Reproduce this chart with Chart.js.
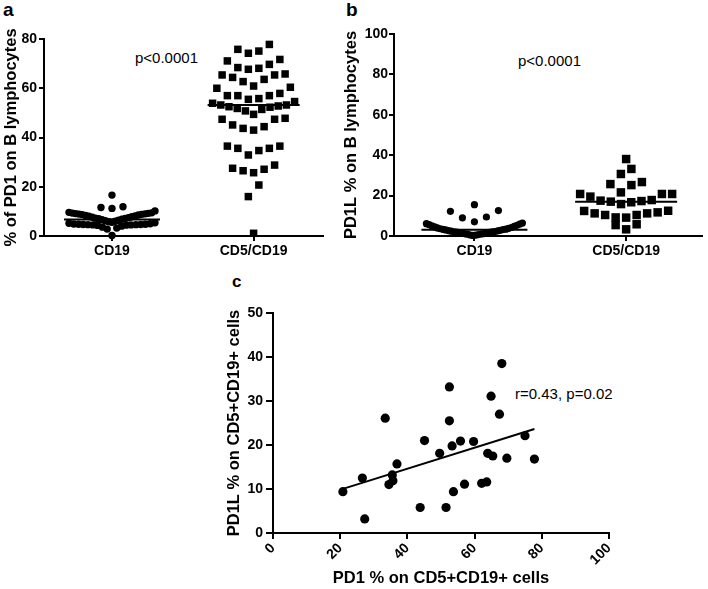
<!DOCTYPE html>
<html>
<head>
<meta charset="utf-8">
<script src="https://cdn.jsdelivr.net/npm/chart.js@4.4.1/dist/chart.umd.min.js"></script>
<style>
  body { margin: 0; background: #fff; width: 708px; height: 589px; overflow: hidden; position: relative; font-family: "Liberation Sans", Arial, sans-serif; color: #000; }
  canvas { position: absolute; }
  .letter { position: absolute; font-weight: bold; line-height: 1; }
  .note { position: absolute; font-size: 15px; line-height: 1; white-space: nowrap; }
</style>
</head>
<body>
<div class="letter" style="left:3px;top:0px;font-size:19px">a</div>
<div class="letter" style="left:346px;top:0px;font-size:19px">b</div>
<div class="letter" style="left:232px;top:273px;font-size:17px">c</div>
<div class="note" style="left:135px;top:50px">p&lt;0.0001</div>
<div class="note" style="left:518px;top:53px">p&lt;0.0001</div>
<div class="note" style="left:515px;top:386px">r=0.43, p=0.02</div>

<canvas id="chartA" width="340" height="270" style="left:0;top:0"></canvas>
<canvas id="chartB" width="368" height="270" style="left:340px;top:0"></canvas>
<canvas id="chartC" width="450" height="319" style="left:180px;top:270px"></canvas>

<script>
// ---- dados ----
const grupos = ["CD19", "CD5/CD19"];

// a: % de PD1 nos linfócitos B
const pd1Cd19 = [16.6, 11.9, 11.6, 11.2, 10.2, 9.6, 9.4, 9.3, 9.2, 9.1, 9.0, 8.9, 8.8, 8.7, 8.5,
  8.3, 8.1, 8.0, 7.8, 7.6, 7.4, 7.2, 7.1, 7.0, 6.8, 6.6, 6.4, 6.2, 6.0, 5.8, 5.6, 5.4, 5.2, 5.0,
  4.9, 4.8, 4.8, 4.7, 4.7, 4.6, 4.6, 4.5, 4.5, 4.4, 4.3, 4.0, 3.6, 3.2, 2.8, 0.2];
const pd1Cd5 = [77.8, 75.8, 75.1, 74.2, 71.1, 71.7, 69.7, 68.4, 67.7, 68.1, 65.4, 65.4, 65.8, 64.4,
  63.6, 62.7, 60.9, 60.0, 60.4, 57.0, 57.0, 57.9, 57.0, 55.5, 55.8, 54.6, 52.8, 51.8, 53.2, 53.2,
  53.9, 52.3, 52.5, 50.8, 51.4, 47.4, 47.8, 49.4, 47.4, 45.1, 43.7, 43.0, 44.4, 36.5, 35.6, 32.9,
  34.7, 35.6, 36.5, 27.5, 26.5, 25.7, 27.1, 28.8, 20.7, 16.0, 1.1];

// b: % de PD1L nos linfócitos B
const pd1lCd19 = [15.5, 12.6, 12.2, 9.4, 9.0, 7.0, 6.4, 6.1, 5.9, 5.6, 5.3, 5.0, 4.8, 4.5, 4.2,
  4.0, 3.8, 3.6, 3.4, 3.3, 3.2, 3.0, 2.8, 2.7, 2.5, 2.4, 2.2, 2.1, 2.0, 1.9, 1.8, 1.6, 1.5, 1.4,
  1.2, 1.1, 1.0, 0.9, 0.7, 0.5, 0.4, 0.3];
const pd1lCd5 = [38.1, 33.2, 30.7, 26.7, 25.2, 25.7, 21.6, 20.8, 19.5, 17.5, 16.7, 15.8, 17.0,
  17.3, 17.8, 20.8, 20.8, 12.4, 11.2, 10.4, 9.2, 9.1, 10.4, 11.2, 11.7, 12.5, 5.4, 5.8, 3.3];

// c: correlação PD1 x PD1L em CD5+CD19+
const pd1Cells = [20.8, 26.6, 27.3, 33.4, 34.5, 35.5, 35.7, 36.9, 43.8, 45.1, 49.6, 51.5, 52.5,
  52.5, 53.3, 53.7, 55.8, 57.0, 59.7, 62.1, 63.6, 63.9, 65.4, 64.9, 67.4, 68.1, 69.6, 75.0, 77.8];
const pd1lCells = [9.4, 12.5, 3.2, 26.1, 11.0, 13.2, 11.9, 15.7, 5.8, 21.0, 18.1, 5.8, 33.2,
  25.5, 19.8, 9.4, 20.9, 11.1, 20.8, 11.3, 11.6, 18.1, 17.5, 31.1, 27.0, 38.5, 17.0, 22.1, 16.8];

const ticksYA = [0, 20, 40, 60, 80];
const ticksYB = [0, 20, 40, 60, 80, 100];
const ticksXC = [0, 20, 40, 60, 80, 100];
const ticksYC = [0, 10, 20, 30, 40, 50];

Chart.defaults.font.family = "'Liberation Sans', Arial, sans-serif";
Chart.defaults.color = "#000";
Chart.defaults.animation = false;

const tickFont = { weight: "bold", size: 14 };
const titleFont = { weight: "bold", size: 16.5 };

function eixo(min, max, valores, opts) {
    return {
        type: "linear",
        min: min,
        max: max,
        afterBuildTicks: s => { s.ticks = valores.map(v => ({ value: v })); },
        afterFit: s => {
            if (opts.width) s.width = opts.width;
            if (opts.height) s.height = opts.height;
        },
        border: { display: true, color: "#000", width: 2 },
        grid: { drawOnChartArea: false, drawTicks: true, tickLength: opts.tickLength, color: "#000", lineWidth: 2 },
        ticks: {
            color: "#000",
            font: tickFont,
            padding: opts.pad,
            autoSkip: false,
            minRotation: opts.rot || 0,
            maxRotation: opts.rot || 0,
            callback: opts.callback || (v => v)
        },
        title: {
            display: !!opts.title,
            text: opts.title || "",
            color: "#000",
            font: titleFont,
            padding: opts.titlePad || 0
        }
    };
}

function mediana(arr) {
    const s = arr.slice().sort((a, b) => a - b);
    const m = Math.floor(s.length / 2);
    return s.length % 2 ? s[m] : (s[m - 1] + s[m]) / 2;
}

// distribui os pontos em linhas, do centro para fora (como o "column scatter" do prism)
function espalhar(chart, valores, centro, cfg) {
    const xs = chart.scales.x, ys = chart.scales.y;
    const cx = xs.getPixelForValue(centro);
    const linhas = [];
    let atual = null;
    valores.slice().sort((a, b) => a - b).forEach(v => {
        const py = ys.getPixelForValue(v);
        if (!atual || atual.py0 - py > cfg.h) {
            atual = { py0: py, vals: [] };
            linhas.push(atual);
        }
        atual.vals.push(v);
    });
    const pontos = [];
    let meia = 0;
    linhas.forEach(l => {
        const n = l.vals.length;
        const passo = n > 1 ? Math.min(cfg.s, 2 * cfg.w / (n - 1)) : 0;
        const pos = [];
        for (let i = 0; i < n; i++) pos.push((i - (n - 1) / 2) * passo);
        pos.sort((a, b) => Math.abs(a) - Math.abs(b) || a - b);
        l.vals.forEach((v, i) => {
            pontos.push({ x: xs.getValueForPixel(cx + pos[i]), y: v });
            meia = Math.max(meia, Math.abs(pos[i]));
        });
    });
    meia += 5;
    const med = mediana(valores);
    return {
        pontos: pontos,
        linha: [{ x: xs.getValueForPixel(cx - meia), y: med }, { x: xs.getValueForPixel(cx + meia), y: med }]
    };
}

function graficoColunas(id, d1, d2, cfg) {
    const chart = new Chart(document.getElementById(id), {
        type: "scatter",
        data: {
            datasets: [
                { data: d1.map(v => ({ x: 1, y: v })), pointStyle: "circle", pointRadius: cfg.r1, backgroundColor: "#000", borderWidth: 0, clip: false },
                { data: d2.map(v => ({ x: 2, y: v })), pointStyle: "rect", pointRadius: cfg.r2, backgroundColor: "#000", borderWidth: 0, clip: false },
                { type: "line", data: [], borderColor: "#000", borderWidth: 2, pointRadius: 0, clip: false },
                { type: "line", data: [], borderColor: "#000", borderWidth: 2, pointRadius: 0, clip: false }
            ]
        },
        options: {
            responsive: false,
            events: [],
            layout: { padding: cfg.padding },
            plugins: { legend: { display: false }, tooltip: { enabled: false } },
            scales: {
                x: eixo(cfg.xmin, cfg.xmax, [1, 2], { height: 34, tickLength: 5, pad: 2, callback: v => grupos[v - 1] }),
                y: eixo(0, cfg.ymax, cfg.ticksY, { width: cfg.yWidth, tickLength: 5, pad: cfg.yPad, title: cfg.title, titlePad: { top: 2, bottom: 0 } })
            }
        }
    });
    const g1 = espalhar(chart, d1, 1, cfg.sp1);
    const g2 = espalhar(chart, d2, 2, cfg.sp2);
    chart.data.datasets[0].data = g1.pontos;
    chart.data.datasets[1].data = g2.pontos;
    chart.data.datasets[2].data = g1.linha;
    chart.data.datasets[3].data = g2.linha;
    chart.update("none");
    return chart;
}

graficoColunas("chartA", pd1Cd19, pd1Cd5, {
    padding: { left: 0, top: 39, right: 17, bottom: 0 },
    xmin: 0.52, xmax: 2.49, ymax: 80, ticksY: ticksYA, yWidth: 44, yPad: 2,
    title: "% of PD1 on B lymphocytes", r1: 3.7, r2: 5.3,
    sp1: { h: 13, s: 11, w: 43 }, sp2: { h: 13, s: 10.5, w: 41 }
});

graficoColunas("chartB", pd1lCd19, pd1lCd5, {
    padding: { left: 0, top: 34, right: 5, bottom: 0 },
    xmin: 0.47, xmax: 2.5, ymax: 100, ticksY: ticksYB, yWidth: 54, yPad: 1,
    title: "PD1L % on B lymphocytes", r1: 3.6, r2: 6,
    sp1: { h: 13, s: 12, w: 48 }, sp2: { h: 11, s: 10.5, w: 46 }
});

// regressão linear simples para a reta do painel c
const n = pd1Cells.length;
const mx = pd1Cells.reduce((a, b) => a + b, 0) / n;
const my = pd1lCells.reduce((a, b) => a + b, 0) / n;
let sxy = 0, sxx = 0;
for (let i = 0; i < n; i++) {
    sxy += (pd1Cells[i] - mx) * (pd1lCells[i] - my);
    sxx += (pd1Cells[i] - mx) ** 2;
}
const inclinacao = sxy / sxx;
const intercepto = my - inclinacao * mx;
const xMin = Math.min(...pd1Cells), xMax = Math.max(...pd1Cells);

new Chart(document.getElementById("chartC"), {
    type: "scatter",
    data: {
        datasets: [
            { data: pd1Cells.map((x, i) => ({ x: x, y: pd1lCells[i] })), pointRadius: 4.6, backgroundColor: "#000", borderWidth: 0, clip: false },
            { type: "line", data: [{ x: xMin, y: intercepto + inclinacao * xMin }, { x: xMax, y: intercepto + inclinacao * xMax }],
              borderColor: "#000", borderWidth: 2, pointRadius: 0 }
        ]
    },
    options: {
        responsive: false,
        events: [],
        layout: { padding: { left: 44, top: 43, right: 21, bottom: 0 } },
        plugins: { legend: { display: false }, tooltip: { enabled: false } },
        scales: {
            x: eixo(0, 100, ticksXC, { height: 56, tickLength: 6, pad: 1, rot: 45, title: "PD1 % on CD5+CD19+ cells", titlePad: { top: 0, bottom: 1 } }),
            y: eixo(0, 50, ticksYC, { width: 49, tickLength: 7, pad: 3, title: "PD1L % on CD5+CD19+ cells", titlePad: { top: 1, bottom: 0 } })
        }
    }
});
</script>
</body>
</html>
